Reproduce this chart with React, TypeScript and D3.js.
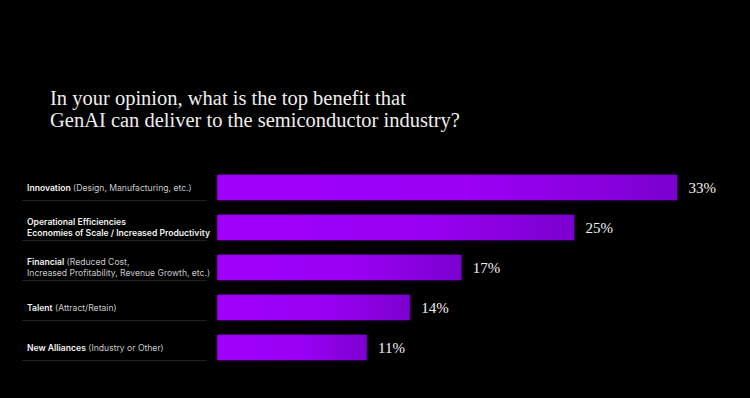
import React from "react";
import * as d3 from "d3";

const title = [
  "In your opinion, what is the top benefit that",
  "GenAI can deliver to the semiconductor industry?",
];
const categories = ["Innovation", "Operational Efficiencies", "Financial", "Talent", "New Alliances"];
// each label line: [bold part, plain part]
const labelLines: [string, string][][] = [
  [["Innovation", " (Design, Manufacturing, etc.)"]],
  [
    ["Operational Efficiencies", ""],
    ["Economies of Scale / Increased Productivity", ""],
  ],
  [
    ["Financial", " (Reduced Cost,"],
    ["", "Increased Profitability, Revenue Growth, etc.)"],
  ],
  [["Talent", " (Attract/Retain)"]],
  [["New Alliances", " (Industry or Other)"]],
];
// printed (rounded) percentages
const values = [33, 25, 17, 14, 11];
const shares = [33.0, 25.6, 17.5, 13.8, 10.7];

const W = 750;
const H = 398;

export default function App() {
  const x = d3.scaleLinear().domain([0, 33]).range([217.5, 677]);
  const y = d3
    .scaleBand()
    .domain(categories)
    .range([175, 360])
    .paddingInner(0.375)
    .paddingOuter(0);
  const bw = y.bandwidth();
  const sans = "Inter, 'Noto Sans', sans-serif";
  const serif = "'Liberation Serif', 'DejaVu Serif', serif";

  return (
    <svg
      width={W}
      height={H}
      style={{ position: "fixed", left: 0, top: 0, background: "#000" }}
    >
      <defs>
        <linearGradient id="barGrad" x1="0" x2="1" y1="0" y2="0">
          <stop offset="0" stopColor="#a000fb" />
          <stop offset="0.55" stopColor="#9a00f4" />
          <stop offset="1" stopColor="#7c00cf" />
        </linearGradient>
        <filter id="glow" x="-5%" y="-30%" width="110%" height="160%">
          <feGaussianBlur stdDeviation="1.2" result="b" />
          <feMerge>
            <feMergeNode in="b" />
            <feMergeNode in="SourceGraphic" />
          </feMerge>
        </filter>
      </defs>
      <rect width={W} height={H} fill="#000" />

      <g fontFamily={serif} fontSize={20.5} fill="#eeeeee">
        {title.map((t, i) => (
          <text key={i} x={50} y={105 + i * 22}>
            {t}
          </text>
        ))}
      </g>

      {categories.map((c, i) => {
        const top = y(c) as number;
        const lines = labelLines[i];
        const baseY = lines.length === 1 ? [top + 15.5] : [top + 10, top + 21];
        return (
          <g key={c}>
            <line
              x1={22}
              x2={207}
              y1={top + bw + 0.5}
              y2={top + bw + 0.5}
              stroke="#2a2a2e"
              strokeWidth={0.8}
            />
            {lines.map(([b, r], j) => (
              <text key={j} x={27} y={baseY[j]} fontFamily={sans} fontSize={8.6} fill="#e6e6e6">
                {b && (
                  <tspan fontWeight={600} fill="#f2f2f2">
                    {b}
                  </tspan>
                )}
                {r && (
                  <tspan fontWeight={400} fill="#c9c9cc">
                    {r}
                  </tspan>
                )}
              </text>
            ))}
            <rect
              x={x(0)}
              y={top}
              width={x(shares[i]) - x(0)}
              height={bw}
              fill="url(#barGrad)"
              filter="url(#glow)"
            />
            <text
              x={x(shares[i]) + 11.5}
              y={top + bw / 2 + 5.5}
              fontFamily={serif}
              fontSize={15}
              fill="#f2f2f2"
            >
              {values[i]}%
            </text>
          </g>
        );
      })}
    </svg>
  );
}
